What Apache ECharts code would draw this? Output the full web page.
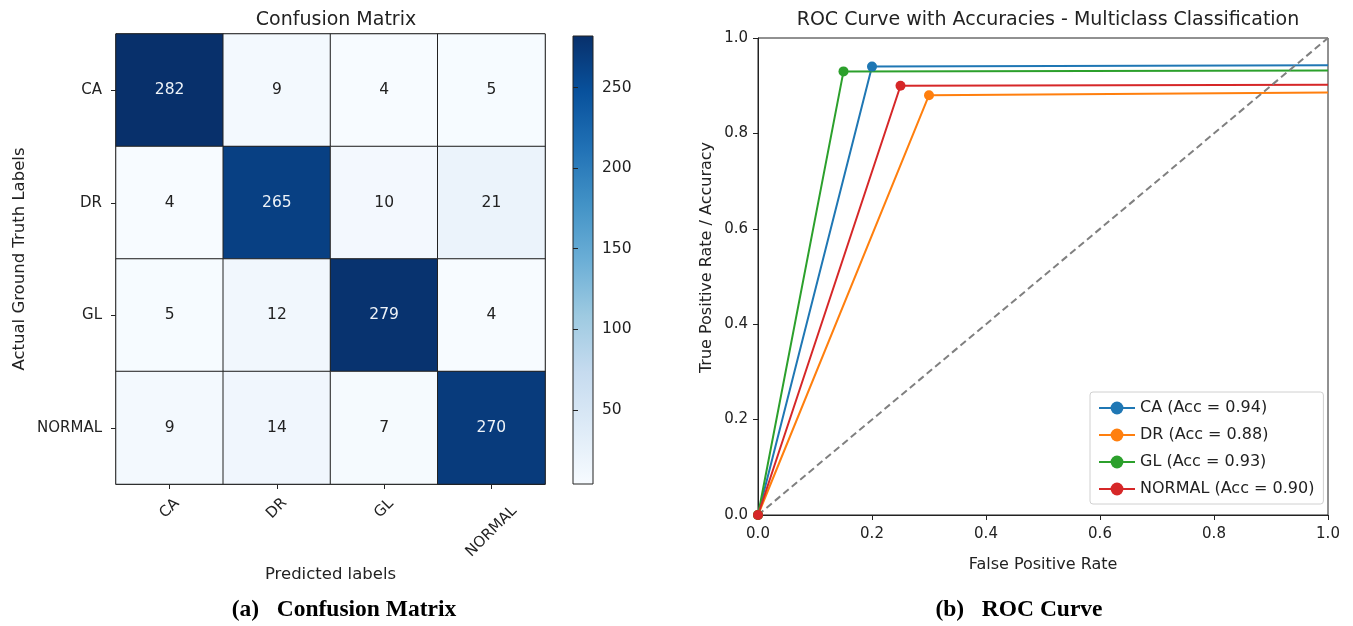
<!DOCTYPE html>
<html>
<head>
<meta charset="utf-8">
<script src="https://cdn.jsdelivr.net/npm/echarts@6/dist/echarts.min.js"></script>
<style>
  html, body { margin: 0; padding: 0; background: #fff; }
  #chart { width: 1353px; height: 626px; }
</style>
</head>
<body>
<div id="chart"></div>
<script>
// confusion matrix
const classes = ["CA", "DR", "GL", "NORMAL"];
const cmCA = [282, 9, 4, 5];
const cmDR = [4, 265, 10, 21];
const cmGL = [5, 12, 279, 4];
const cmNORMAL = [9, 14, 7, 270];
const colorbarTicks = [50, 100, 150, 200, 250];

// roc curves
const rocNames = ["CA", "DR", "GL", "NORMAL"];
const rocAcc = [0.94, 0.88, 0.93, 0.90];
const rocFpr = [[0, 0.2, 1], [0, 0.3, 1], [0, 0.15, 1], [0, 0.25, 1]];
const rocTpr = [[0, 0.94, 0.943], [0, 0.88, 0.886], [0, 0.93, 0.932], [0, 0.90, 0.902]];
const chanceX = [0, 1];
const chanceY = [0, 1];

const FONT = "DejaVu Sans";
const TXT = "#222";
const blues = ["#f7fbff", "#deebf7", "#c6dbef", "#9ecae1", "#6baed6", "#4292c6", "#2171b5", "#08519c", "#08306b"];
const rocColors = ["#1f77b4", "#ff7f0e", "#2ca02c", "#d62728"];

const cmRows = [cmCA, cmDR, cmGL, cmNORMAL];
const allVals = [].concat(...cmRows);
const vMin = Math.min(...allVals);
const vMax = Math.max(...allVals);

let heatData = [];
cmRows.forEach((row, r) => {
  row.forEach((v, c) => {
    heatData.push({
      value: [c, r, v],
      label: { color: v > (vMin + vMax) / 2 ? "#eef3f8" : TXT }
    });
  });
});

// rotated x labels: centre them under the tick like matplotlib does
// (shift left along the text with padding, down with lineHeight)
const xCats = classes.map(name => {
  let d = name.length * 5.75;
  let b = d / 1.414;
  return {
    value: name,
    textStyle: { align: "center", verticalAlign: "top", lineHeight: 2 * b, padding: [0, 2 * b, 0, 0] }
  };
});

let rocSeries = rocNames.map((name, i) => {
  return {
    name: name + " (Acc = " + rocAcc[i].toFixed(2) + ")",
    type: "line",
    xAxisIndex: 2,
    yAxisIndex: 2,
    symbol: "circle",
    symbolSize: 10,
    lineStyle: { width: 2, color: rocColors[i] },
    itemStyle: { color: rocColors[i] },
    data: rocFpr[i].map((x, k) => {
      let item = { value: [x, rocTpr[i][k]] };
      if (k === rocFpr[i].length - 1) item.symbol = "none";
      return item;
    })
  };
});

const chart = echarts.init(document.getElementById("chart"));
const option = {
  backgroundColor: "#fff",
  animation: false,
  textStyle: { fontFamily: FONT, color: TXT },
  title: [
    { text: "Confusion Matrix", left: 331, top: 6, textAlign: "center",
      textStyle: { fontFamily: FONT, fontSize: 19, fontWeight: "normal", color: TXT } },
    { text: "ROC Curve with Accuracies - Multiclass Classification", left: 1043, top: 6, textAlign: "center",
      textStyle: { fontFamily: FONT, fontSize: 19, fontWeight: "normal", color: TXT } },
    { text: "(a)   Confusion Matrix", left: 339, top: 593, textAlign: "center",
      textStyle: { fontFamily: "Liberation Serif", fontSize: 23.5, fontWeight: "bold", color: "#000" } },
    { text: "(b)   ROC Curve", left: 1014, top: 593, textAlign: "center",
      textStyle: { fontFamily: "Liberation Serif", fontSize: 23.5, fontWeight: "bold", color: "#000" } }
  ],
  legend: {
    data: rocSeries.map(s => s.name),
    orient: "vertical",
    left: 1090,
    top: 392,
    itemGap: 11,
    itemWidth: 36,
    itemHeight: 16,
    padding: [8, 9, 7, 8],
    borderColor: "#d0d0d0",
    borderWidth: 1,
    borderRadius: 3,
    selectedMode: false,
    textStyle: { fontFamily: FONT, fontSize: 16, color: TXT }
  },
  visualMap: {
    type: "continuous",
    show: false,
    min: vMin,
    max: vMax,
    seriesIndex: 0,
    inRange: { color: blues }
  },
  grid: [
    { left: 116, top: 34, width: 429, height: 450, show: true, borderColor: "#222", borderWidth: 1 },
    { left: 573, top: 36, width: 20, height: 448, show: true, borderColor: "#222", borderWidth: 1,
      backgroundColor: new echarts.graphic.LinearGradient(0, 0, 0, 1,
        blues.slice().reverse().map((c, i) => ({ offset: i / (blues.length - 1), color: c }))) },
    { left: 758, top: 38, width: 570, height: 477, show: true, borderColor: "#222", borderWidth: 1 }
  ],
  xAxis: [
    {
      gridIndex: 0,
      type: "category",
      data: xCats,
      name: "Predicted labels",
      nameLocation: "middle",
      nameGap: 82,
      nameMoveOverlap: false,
      nameTextStyle: { fontFamily: FONT, fontSize: 16.5, color: TXT },
      axisLine: { lineStyle: { color: "#222", width: 1 } },
      axisTick: { show: true, alignWithLabel: true, length: 5, lineStyle: { color: "#222" } },
      axisLabel: { rotate: 45, margin: 13, fontFamily: FONT, fontSize: 15, color: TXT },
      splitLine: { show: false }
    },
    {
      gridIndex: 1,
      type: "value",
      show: false
    },
    {
      gridIndex: 2,
      type: "value",
      min: 0,
      max: 1,
      interval: 0.2,
      name: "False Positive Rate",
      nameLocation: "middle",
      nameGap: 42,
      nameMoveOverlap: false,
      nameTextStyle: { fontFamily: FONT, fontSize: 16, color: TXT },
      axisLine: { show: true, lineStyle: { color: "#222" } },
      axisTick: { show: true, length: 5, lineStyle: { color: "#222" } },
      axisLabel: { fontFamily: FONT, fontSize: 15, color: TXT, margin: 12,
        formatter: v => v.toFixed(1) },
      splitLine: { show: false }
    }
  ],
  yAxis: [
    {
      gridIndex: 0,
      type: "category",
      inverse: true,
      data: classes,
      name: "Actual Ground Truth Labels",
      nameLocation: "middle",
      nameGap: 88,
      nameMoveOverlap: false,
      nameTextStyle: { fontFamily: FONT, fontSize: 16.5, color: TXT },
      axisLine: { show: true, lineStyle: { color: "#222", width: 1 } },
      axisTick: { show: true, alignWithLabel: true, length: 5, lineStyle: { color: "#222" } },
      axisLabel: { fontFamily: FONT, fontSize: 15, color: TXT, margin: 14 },
      splitLine: { show: false }
    },
    {
      gridIndex: 1,
      type: "value",
      position: "right",
      min: vMin,
      max: vMax,
      axisLine: { show: false },
      axisTick: { show: true, length: 5, lineStyle: { color: "#222" }, customValues: colorbarTicks },
      axisLabel: { fontFamily: FONT, fontSize: 15.5, color: TXT, margin: 9, customValues: colorbarTicks },
      splitLine: { show: false }
    },
    {
      gridIndex: 2,
      type: "value",
      min: 0,
      max: 1,
      interval: 0.2,
      name: "True Positive Rate / Accuracy",
      nameLocation: "middle",
      nameGap: 43,
      nameMoveOverlap: false,
      nameTextStyle: { fontFamily: FONT, fontSize: 16, color: TXT, padding: [0, 0, 0, 38] },
      axisLine: { show: true, lineStyle: { color: "#222" } },
      axisTick: { show: true, length: 5, lineStyle: { color: "#222" } },
      axisLabel: { fontFamily: FONT, fontSize: 15, color: TXT, margin: 10,
        formatter: v => v.toFixed(1) },
      splitLine: { show: false }
    }
  ],
  series: [
    {
      type: "heatmap",
      xAxisIndex: 0,
      yAxisIndex: 0,
      data: heatData,
      label: { show: true, fontFamily: FONT, fontSize: 15.5 },
      itemStyle: { borderColor: "#222", borderWidth: 1 },
      emphasis: { disabled: true }
    },
    ...rocSeries,
    {
      type: "line",
      xAxisIndex: 2,
      yAxisIndex: 2,
      symbol: "none",
      lineStyle: { color: "#808080", width: 2, type: [7, 4] },
      data: chanceX.map((x, k) => [x, chanceY[k]]),
      silent: true
    }
  ]
};
chart.setOption(option);
</script>
</body>
</html>
